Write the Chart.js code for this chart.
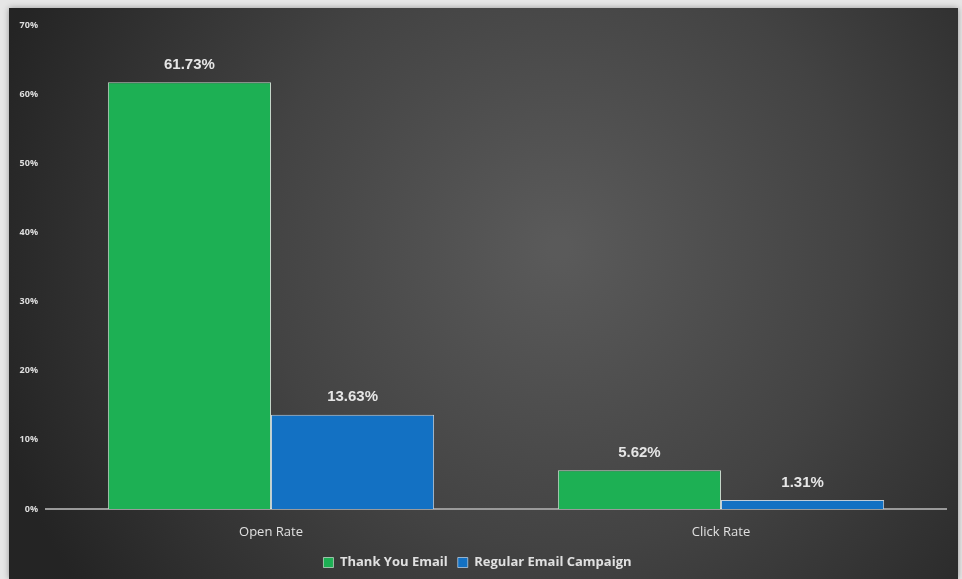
<!DOCTYPE html>
<html><head><meta charset="utf-8">
<script src="https://cdn.jsdelivr.net/npm/chart.js@4"></script>
<style>
html,body{margin:0;padding:0;background:#e6e6e6;width:962px;height:579px;overflow:hidden;}
#wrap{position:absolute;left:9px;top:8px;width:949px;height:571px;box-shadow:0 0 6px rgba(0,0,0,0.35);}
</style></head>
<body>
<div id="wrap"><canvas id="c" width="949" height="571"></canvas></div>
<script>
const categories = ["Open Rate", "Click Rate"];
const seriesNames = ["Thank You Email", "Regular Email Campaign"];
const thankYouValues = [61.73, 5.62];
const regularValues = [13.63, 1.31];
const tickValues = [0, 10, 20, 30, 40, 50, 60, 70];

const bgPlugin = {
  id: 'bg',
  beforeDraw(chart) {
    const {ctx, width, height} = chart;
    const g = ctx.createRadialGradient(width*0.58, height*0.42, 10, width*0.58, height*0.42, width*0.62);
    g.addColorStop(0, '#5a5a5a');
    g.addColorStop(0.5, '#434343');
    g.addColorStop(1, '#242424');
    ctx.save();
    ctx.fillStyle = g;
    ctx.fillRect(0, 0, width, height);
    ctx.restore();
  }
};

const labelPlugin = {
  id: 'vals',
  afterDatasetsDraw(chart) {
    const ctx = chart.ctx;
    ctx.save();
    ctx.font = 'bold 15px "Liberation Sans", Arial, sans-serif';
    ctx.fillStyle = '#e6e6e6';
    ctx.textAlign = 'center';
    ctx.textBaseline = 'bottom';
    chart.data.datasets.forEach((ds, i) => {
      chart.getDatasetMeta(i).data.forEach((bar, j) => {
        ctx.fillText(ds.data[j].toFixed(2) + '%', bar.x, bar.y - 10);
      });
    });
    ctx.restore();
  }
};

new Chart(document.getElementById('c'), {
  type: 'bar',
  data: {
    labels: categories,
    datasets: [
      {label: seriesNames[0], data: thankYouValues, backgroundColor: '#1db054', borderColor: 'rgba(220,240,225,0.85)', borderWidth: {top:1,left:1,right:1,bottom:0}, categoryPercentage: 0.725, barPercentage: 1},
      {label: seriesNames[1], data: regularValues, backgroundColor: '#1371c3', borderColor: 'rgba(215,230,245,0.85)', borderWidth: {top:1,left:1,right:1,bottom:0}, categoryPercentage: 0.725, barPercentage: 1}
    ]
  },
  options: {
    responsive: false,
    animation: false,
    devicePixelRatio: 1,
    layout: {padding: {top: 17, right: 12, left: 0, bottom: 0}},
    scales: {
      x: {
        afterFit(s) { s.height = 37; },
        grid: {display: false, drawTicks: false},
        border: {display: true, color: '#9a9a9a', width: 2},
        ticks: {color: '#e0e0e0', font: {family: '"Open Sans", sans-serif', size: 13}, padding: 15}
      },
      y: {
        min: 0, max: 70,
        afterBuildTicks(s) { s.ticks = tickValues.map(v => ({value: v})); },
        afterFit(s) { s.width = 37; },
        grid: {display: false, drawTicks: false},
        border: {display: false},
        ticks: {color: '#dddddd', font: {family: '"Open Sans", sans-serif', size: 9, weight: 'bold'}, padding: 8, callback: v => v + '%'}
      }
    },
    plugins: {
      legend: {
        position: 'bottom',
        labels: {color: '#e0e0e0', boxWidth: 10, boxHeight: 10, padding: 10, font: {family: '"Open Sans", sans-serif', size: 13, weight: 'bold'}}
      },
      tooltip: {enabled: false}
    }
  },
  plugins: [bgPlugin, labelPlugin]
});
</script>
</body></html>
